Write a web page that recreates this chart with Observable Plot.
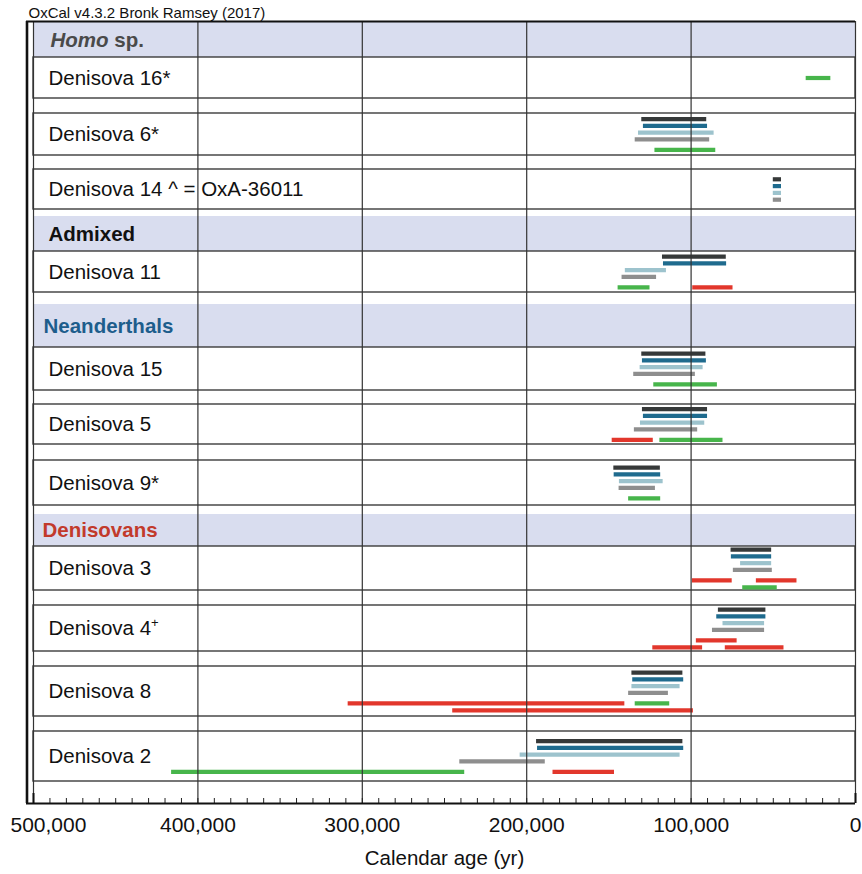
<!DOCTYPE html>
<html><head><meta charset="utf-8">
<script src="https://cdn.jsdelivr.net/npm/d3@7"></script>
<script src="https://cdn.jsdelivr.net/npm/@observablehq/plot@0.6"></script>
<style>body{margin:0;background:#fff}</style>
</head><body><div id="chart"></div>
<script>
// ---------- data ----------
const groupNames = ["Homo sp.", "Admixed", "Neanderthals", "Denisovans"];
const rowNames = ["Homo sp.", "Denisova 16*", "Denisova 6*", "Denisova 14 ^ = OxA-36011", "Admixed", "Denisova 11",
  "Neanderthals", "Denisova 15", "Denisova 5", "Denisova 9*", "Denisovans", "Denisova 3", "Denisova 4+", "Denisova 8", "Denisova 2"];
const specimens = ["Denisova 16*", "Denisova 6*", "Denisova 14 ^ = OxA-36011", "Denisova 11", "Denisova 15", "Denisova 5",
  "Denisova 9*", "Denisova 3", "Denisova 4+", "Denisova 8", "Denisova 2"];
// [older, younger] calendar ages (yr), one per specimen (null = none)
const seriesA = [null, [130000,90500], [50000,45000], [117400,78600], [130000,91000], [129600,90000], [147000,118700], [75700,51000], [83400,54500], [136000,105000], [194000,105000]];
const seriesB = [null, [129000,90000], [50000,45000], [116800,78400], [129600,90700], [129000,90000], [146800,118500], [75500,51000], [84400,54500], [135500,104500], [193400,104500]];
const seriesC = [null, [132000,86000], [50000,45000], [140000,115000], [131000,92700], [130800,91700], [143600,117000], [69900,51000], [80600,55300], [136000,106700], [204000,106700]];
const seriesD = [null, [134000,88700], [50000,45000], [142000,121000], [134900,97400], [134500,96000], [143800,121700], [74300,50600], [87000,55300], [138000,113800], [240700,188700]];
// extra ranges: [specimen, series, line within block, older, younger]
const extraBars = [
  ["Denisova 16*","green",0,30000,15000],
  ["Denisova 6*","green",4,122000,85000],
  ["Denisova 11","green",4,144400,125000],
  ["Denisova 11","red",4,99000,74500],
  ["Denisova 15","green",4,122700,84000],
  ["Denisova 5","red",4,148000,123000],
  ["Denisova 5","green",4,119000,80600],
  ["Denisova 9*","green",4,138000,118500],
  ["Denisova 3","red",4,99200,75000],
  ["Denisova 3","red",4,60300,35600],
  ["Denisova 3","green",5,68600,47600],
  ["Denisova 4+","red",4,96800,72000],
  ["Denisova 4+","red",5,123300,93000],
  ["Denisova 4+","red",5,79200,43500],
  ["Denisova 8","red",4,308600,140300],
  ["Denisova 8","green",4,134000,113000],
  ["Denisova 8","red",5,245000,98600],
  ["Denisova 2","green",4,416000,237700],
  ["Denisova 2","red",4,184000,146600]
];
const seriesNames = ["A","B","C","D","green","red"];
const gridTicks = [500000, 400000, 300000, 200000, 100000, 0];
const minorTicks = d3.range(0, 500001, 10000);
const titleText = "OxCal v4.3.2 Bronk Ramsey (2017)";
const axisTitle = "Calendar age (yr)";

// ---------- layout (sizes only) ----------
const W = 862, H = 874;
const rowGap =    [1, 0, 15, 14, 7, 0, 12, 0, 14, 16, 9, 0, 15, 15, 15];
const rowHeight = [35, 41, 42, 40, 35, 41, 43, 43, 40, 45, 32, 44, 46, 50, 50];
const yMax = 782;
let cur = 0;
const rows = rowNames.map((name, i) => {
  cur += rowGap[i];
  const r = {name, group: groupNames.includes(name), top: cur, bottom: cur + rowHeight[i]};
  cur += rowHeight[i];
  return r;
});
const rowByName = new Map(rows.map(r => [r.name, r]));
const laneOff = l => l <= 3 ? l * 6.8 : 3 * 6.8 + 10.5 + (l - 4) * 7;

let bars = [];
[seriesA, seriesB, seriesC, seriesD].forEach((s, si) => {
  s.forEach((rng, i) => { if (rng) bars.push({specimen: specimens[i], series: seriesNames[si], line: si, from: rng[0], to: rng[1]}); });
});
extraBars.forEach(([specimen, series, line, from, to]) => bars.push({specimen, series, line, from, to}));
const maxLine = d3.rollup(bars, v => d3.max(v, d => d.line), d => d.specimen);
bars.forEach(b => {
  const r = rowByName.get(b.specimen);
  const span = laneOff(maxLine.get(b.specimen));
  b.y = (r.top + r.bottom) / 2 - span / 2 + laneOff(b.line);
});

const font = "'Liberation Sans', Arial, Helvetica, sans-serif";
const headerColor = {"Homo sp.": "#4a4a4a", "Admixed": "#111111", "Neanderthals": "#1d5d8c", "Denisovans": "#c23a2b"};
const headerDx = {"Homo sp.": 17, "Admixed": 15, "Neanderthals": 10, "Denisovans": 9};

const headerRows = rows.filter(r => r.group);
const sampleRows = rows.filter(r => !r.group);

const marks = [
  Plot.rect(headerRows, {x1: 500000, x2: 0, y1: "top", y2: "bottom", fill: "#d9ddef"}),
  Plot.rect(sampleRows, {x1: 500000, x2: 0, y1: "top", y2: "bottom", fill: "white", stroke: "#3c3c3c", strokeWidth: 1.4}),
  Plot.ruleY(bars, {x1: "from", x2: "to", y: "y", stroke: "series", strokeWidth: 4.2}),
  Plot.ruleX(gridTicks, {y1: 0, y2: yMax, stroke: "#333", strokeWidth: 1.2}),
  Plot.ruleX(minorTicks, {y1: yMax - 5, y2: yMax, stroke: "#222", strokeWidth: 1}),
  Plot.ruleX([500000, 0], {y1: yMax - 10, y2: yMax, stroke: "#111", strokeWidth: 2}),
  Plot.ruleX([500000], {y1: 0, y2: yMax, dx: -6.5, stroke: "#111", strokeWidth: 2.6}),
  Plot.ruleY([0], {stroke: "#111", strokeWidth: 2}),
  Plot.ruleY([yMax], {stroke: "#111", strokeWidth: 2.2}),
  Plot.text(sampleRows, {x: 500000, y: d => (d.top + d.bottom) / 2, text: "name", textAnchor: "start", dx: 15, fontSize: 20.5, fill: "#111"}),
  ...headerRows.map(r => Plot.text([r], {x: 500000, y: d => (d.top + d.bottom) / 2, text: "name", textAnchor: "start", dx: headerDx[r.name], fontSize: 20.5, fontWeight: "bold", fill: headerColor[r.name]})),
  Plot.text(gridTicks.filter(t => t !== 500000), {x: d => d, y: yMax, dy: 22, text: d => d3.format(",")(d), fontSize: 21, fill: "#111"}),
  Plot.text([500000], {x: d => d, y: yMax, dy: 22, dx: -23, textAnchor: "start", text: d => d3.format(",")(d), fontSize: 21, fill: "#111"}),
  Plot.text([axisTitle], {frameAnchor: "bottom", lineAnchor: "middle", dy: 55, dx: 3.5, fontSize: 20.5, fill: "#111"}),
  Plot.text([titleText], {frameAnchor: "top-left", lineAnchor: "middle", textAnchor: "start", dx: 2, dy: -8.5, fontSize: 15, fill: "#111"})
];

const chart = Plot.plot({
  width: W, height: H,
  marginLeft: 26, marginRight: 7, marginTop: 21, marginBottom: H - 803,
  style: {fontFamily: font, background: "white"},
  x: {domain: [500000, 0], range: [33, 855], axis: null},
  y: {domain: [0, yMax], range: [21, 803], axis: null},
  color: {domain: seriesNames, range: ["#363939", "#1f6b8e", "#9dc3cd", "#8e8e8e", "#47b54b", "#e2372c"]},
  marks
});

// rich text: italic genus, superscript plus
chart.querySelectorAll("text").forEach(el => {
  const t = el.textContent;
  if (t === "Homo sp.") {
    el.textContent = "";
    const ts = document.createElementNS("http://www.w3.org/2000/svg", "tspan");
    ts.setAttribute("font-style", "italic");
    ts.textContent = "Homo";
    el.appendChild(ts);
    el.appendChild(document.createTextNode(" sp."));
  } else if (t === "Denisova 4+") {
    el.textContent = "Denisova 4";
    const ts = document.createElementNS("http://www.w3.org/2000/svg", "tspan");
    ts.setAttribute("font-size", "13");
    ts.setAttribute("dy", "-8");
    ts.textContent = "+";
    el.appendChild(ts);
  }
});
document.getElementById("chart").appendChild(chart);
</script>
</body></html>
